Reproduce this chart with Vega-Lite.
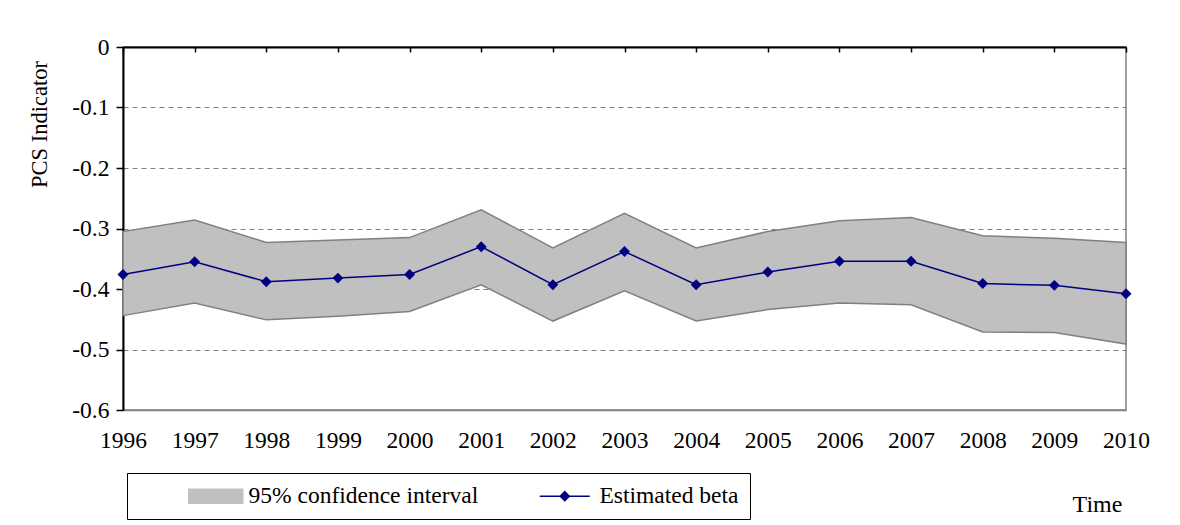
{
  "$schema": "https://vega.github.io/schema/vega-lite/v6.json",
  "width": 1003,
  "height": 363,
  "autosize": {"type": "none"},
  "padding": {"left": 123, "top": 47, "right": 54, "bottom": 115},
  "background": "white",
  "config": {
    "font": "Liberation Serif",
    "axis": {"labelFont": "Liberation Serif", "titleFont": "Liberation Serif"},
    "legend": {"labelFont": "Liberation Serif", "titleFont": "Liberation Serif"},
    "view": {"stroke": "#808080", "strokeWidth": 1.5}
  },
  "data": {
    "values": [
      {"year": 1996, "lower": -0.444, "upper": -0.305, "beta": -0.376},
      {"year": 1997, "lower": -0.423, "upper": -0.286, "beta": -0.355},
      {"year": 1998, "lower": -0.451, "upper": -0.323, "beta": -0.388},
      {"year": 1999, "lower": -0.445, "upper": -0.319, "beta": -0.382},
      {"year": 2000, "lower": -0.437, "upper": -0.315, "beta": -0.376},
      {"year": 2001, "lower": -0.393, "upper": -0.269, "beta": -0.330},
      {"year": 2002, "lower": -0.453, "upper": -0.332, "beta": -0.393},
      {"year": 2003, "lower": -0.403, "upper": -0.275, "beta": -0.338},
      {"year": 2004, "lower": -0.453, "upper": -0.332, "beta": -0.393},
      {"year": 2005, "lower": -0.434, "upper": -0.305, "beta": -0.372},
      {"year": 2006, "lower": -0.423, "upper": -0.287, "beta": -0.354},
      {"year": 2007, "lower": -0.426, "upper": -0.282, "beta": -0.354},
      {"year": 2008, "lower": -0.471, "upper": -0.312, "beta": -0.391},
      {"year": 2009, "lower": -0.472, "upper": -0.316, "beta": -0.394},
      {"year": 2010, "lower": -0.491, "upper": -0.323, "beta": -0.408}
    ]
  },
  "layer": [
    {
      "mark": {"type": "area", "fill": "#c0c0c0", "stroke": "#808080", "strokeWidth": 1.5, "opacity": 1},
      "encoding": {
        "x": {
          "field": "year", "type": "quantitative",
          "scale": {"domain": [1996, 2010], "nice": false, "zero": false},
          "axis": {
            "orient": "bottom",
            "values": [1996,1997,1998,1999,2000,2001,2002,2003,2004,2005,2006,2007,2008,2009,2010],
            "format": "d",
            "grid": false,
            "ticks": false,
            "domain": true, "domainColor": "#808080", "domainWidth": 1.5,
            "labelFont": "Liberation Serif",
            "labelFontSize": 23.5, "labelColor": "black", "labelPadding": 18,
            "labelOverlap": false, "labelFlush": false,
            "title": "Time", "titleFont": "Liberation Serif", "titleFontSize": 24, "titleFontWeight": "normal", "titleColor": "black",
            "titleX": 974, "titleY": 101, "titleAlign": "center", "titleBaseline": "alphabetic", "titleAnchor": "start"
          }
        },
        "y": {
          "field": "lower", "type": "quantitative",
          "scale": {"domain": [-0.6, 0], "nice": false, "zero": false},
          "axis": {
            "values": [0, -0.1, -0.2, -0.3, -0.4, -0.5, -0.6],
            "format": ".1~f",
            "labelExpr": "replace(datum.label, '\u2212', '-')",
            "grid": true, "gridColor": "#808080", "gridDash": [5, 4], "gridWidth": 1,
            "domainColor": "black", "domainWidth": 2,
            "tickColor": "black", "tickSize": 7, "tickWidth": 1.5,
            "labelFont": "Liberation Serif",
            "labelFontSize": 23.5, "labelColor": "black", "labelPadding": 7,
            "title": "PCS Indicator", "titleFont": "Liberation Serif", "titleFontSize": 22.5, "titleFontWeight": "normal", "titleColor": "black",
            "titleX": -72, "titleY": 77, "titleAngle": -90, "titleAlign": "center", "titleBaseline": "bottom", "titleAnchor": "start"
          }
        },
        "y2": {"field": "upper"},
        "color": {
          "datum": "95% confidence interval", "type": "nominal",
          "scale": {"domain": ["95% confidence interval", "Estimated beta"], "range": ["#c0c0c0", "#000080"]},
          "legend": {
            "orient": "none", "legendX": 4, "legendY": 426,
            "direction": "horizontal",
            "title": " ", "titleOrient": "left", "titlePadding": 44, "titleFontSize": 22, "titleFont": "Liberation Serif",
            "strokeColor": "black", "padding": 11,
            "labelFont": "Liberation Serif",
            "labelFontSize": 23.5, "labelColor": "black", "labelOffset": 43, "labelLimit": 500,
            "columnPadding": 54,
            "symbolSize": 100,
            "symbolType": {"expr": "datum.value == 'Estimated beta' ? 'M-1,0L9,0M4,-0.9L4.9,0L4,0.9L3.1,0Z' : 'M-1,-1.4L9.8,-1.4L9.8,1.4L-1,1.4Z'"},
            "symbolStrokeWidth": 1.5,
            "symbolOpacity": 1
          }
        }
      }
    },
    {
      "mark": {"type": "line", "strokeWidth": 1.5, "point": {"shape": "diamond", "size": 120, "filled": true, "opacity": 1}},
      "encoding": {
        "x": {
          "field": "year", "type": "quantitative",
          "scale": {"domain": [1996, 2010], "nice": false, "zero": false},
          "axis": {
            "orient": "top",
            "values": [1996,1997,1998,1999,2000,2001,2002,2003,2004,2005,2006,2007,2008,2009,2010],
            "labels": false, "grid": false,
            "domainColor": "black", "domainWidth": 2,
            "ticks": true, "tickColor": "black", "tickSize": -5, "tickWidth": 1.5,
            "title": null
          }
        },
        "y": {
          "field": "beta", "type": "quantitative",
          "scale": {"domain": [-0.6, 0], "nice": false, "zero": false},
          "axis": {
            "values": [0, -0.1, -0.2, -0.3, -0.4, -0.5, -0.6],
            "format": ".1~f",
            "labelExpr": "replace(datum.label, '\u2212', '-')",
            "grid": true, "gridColor": "#808080", "gridDash": [5, 4], "gridWidth": 1,
            "domainColor": "black", "domainWidth": 2,
            "tickColor": "black", "tickSize": 7, "tickWidth": 1.5,
            "labelFont": "Liberation Serif",
            "labelFontSize": 23.5, "labelColor": "black", "labelPadding": 7,
            "title": "PCS Indicator", "titleFont": "Liberation Serif", "titleFontSize": 22.5, "titleFontWeight": "normal", "titleColor": "black",
            "titleX": -72, "titleY": 77, "titleAngle": -90, "titleAlign": "center", "titleBaseline": "bottom", "titleAnchor": "start"
          }
        },
        "color": {"datum": "Estimated beta", "type": "nominal"}
      }
    }
  ],
  "resolve": {"axis": {"x": "independent"}}
}
